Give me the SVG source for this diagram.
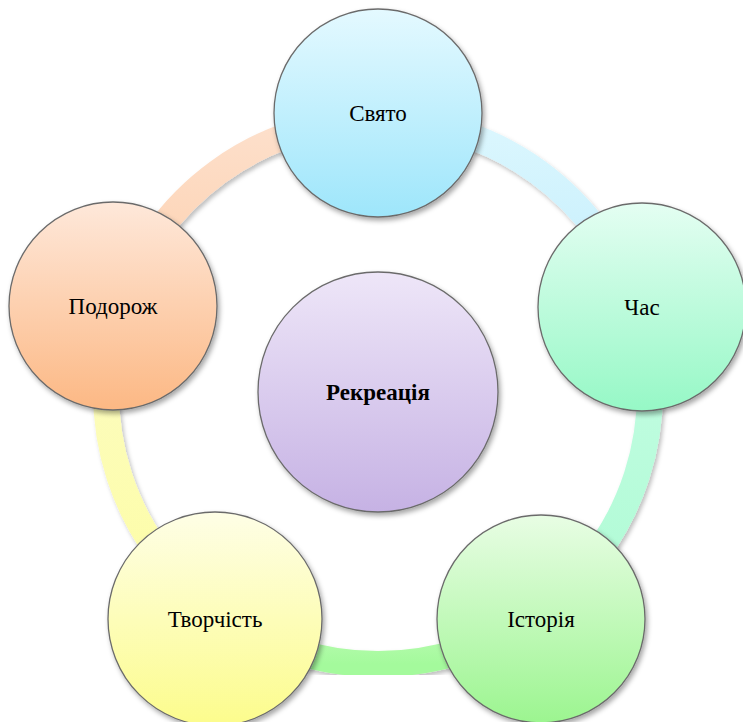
<svg xmlns="http://www.w3.org/2000/svg" width="743" height="722" viewBox="0 0 743 722">
<style>
.node{stroke:#6b6b6b;stroke-width:1.3;filter:url(#sh)}
.arc{fill:none;stroke-width:26;filter:url(#sh2)}
.lbl{font-family:"Liberation Serif","Times New Roman",serif;font-size:23px;fill:#000;text-anchor:middle}
</style>
<defs>
<filter id="sh" x="-20%" y="-20%" width="140%" height="140%">
<feDropShadow dx="2" dy="3" stdDeviation="2.5" flood-color="#000" flood-opacity="0.35"/>
</filter>
<filter id="sh2" x="-20%" y="-20%" width="140%" height="140%">
<feDropShadow dx="2" dy="3" stdDeviation="2" flood-color="#000" flood-opacity="0.25"/>
</filter>
<linearGradient id="gBlue" x1="0" y1="0" x2="0" y2="1"><stop offset="0" stop-color="#e4f9ff"/><stop offset="1" stop-color="#9ee6fb"/></linearGradient>
<linearGradient id="gMint" x1="0" y1="0" x2="0" y2="1"><stop offset="0" stop-color="#e4fef2"/><stop offset="1" stop-color="#96f8c6"/></linearGradient>
<linearGradient id="gGreen" x1="0" y1="0" x2="0" y2="1"><stop offset="0" stop-color="#e8fde4"/><stop offset="1" stop-color="#9cf590"/></linearGradient>
<linearGradient id="gYellow" x1="0" y1="0" x2="0" y2="1"><stop offset="0" stop-color="#fefee6"/><stop offset="1" stop-color="#fcfc8c"/></linearGradient>
<linearGradient id="gPeach" x1="0" y1="0" x2="0" y2="1"><stop offset="0" stop-color="#fee8da"/><stop offset="1" stop-color="#fcb884"/></linearGradient>
<linearGradient id="gPurple" x1="0" y1="0" x2="0" y2="1"><stop offset="0" stop-color="#eee6f8"/><stop offset="1" stop-color="#c6b2e4"/></linearGradient>
<linearGradient id="aBlue" x1="0" y1="0" x2="0" y2="1"><stop offset="0" stop-color="#dcf7fe"/><stop offset="1" stop-color="#c2edfc"/></linearGradient>
<linearGradient id="aMint" x1="0" y1="0" x2="0" y2="1"><stop offset="0" stop-color="#c6fde4"/><stop offset="1" stop-color="#aefbd4"/></linearGradient>
<linearGradient id="aGreen" x1="0" y1="0" x2="0" y2="1"><stop offset="0" stop-color="#c4fcbc"/><stop offset="1" stop-color="#a4fa9c"/></linearGradient>
<linearGradient id="aYellow" x1="0" y1="0" x2="0" y2="1"><stop offset="0" stop-color="#fcfcc4"/><stop offset="1" stop-color="#fdfda4"/></linearGradient>
<linearGradient id="aPeach" x1="0" y1="0" x2="0" y2="1"><stop offset="0" stop-color="#fde0cc"/><stop offset="1" stop-color="#fdcfac"/></linearGradient>
</defs>
<g id="connectors">
<path class="arc" stroke="url(#aBlue)" d="M378,120 A272,272 0 0 1 636.7,308"/>
<path class="arc" stroke="url(#aMint)" d="M636.7,308 A272,272 0 0 1 537.9,612.1"/>
<path class="arc" stroke="url(#aGreen)" d="M537.9,612.1 A272,272 0 0 1 218.1,612.1"/>
<path class="arc" stroke="url(#aYellow)" d="M218.1,612.1 A272,272 0 0 1 119.3,308"/>
<path class="arc" stroke="url(#aPeach)" d="M119.3,308 A272,272 0 0 1 378,120"/>
</g>
<g id="node-center">
<circle class="node" cx="378" cy="392" r="120" fill="url(#gPurple)"/>
<text class="lbl" x="378" y="400" font-weight="bold">Рекреація</text>
</g>
<g id="node-svyato">
<circle class="node" cx="378" cy="113" r="104" fill="url(#gBlue)"/>
<text class="lbl" x="378" y="121">Свято</text>
</g>
<g id="node-chas">
<circle class="node" cx="642" cy="307" r="104" fill="url(#gMint)"/>
<text class="lbl" x="642" y="315">Час</text>
</g>
<g id="node-istoriya">
<circle class="node" cx="541" cy="619" r="104" fill="url(#gGreen)"/>
<text class="lbl" x="541" y="627">Історія</text>
</g>
<g id="node-tvorchist">
<circle class="node" cx="215" cy="619" r="107" fill="url(#gYellow)"/>
<text class="lbl" x="215" y="627">Творчість</text>
</g>
<g id="node-podorozh">
<circle class="node" cx="113" cy="306" r="104" fill="url(#gPeach)"/>
<text class="lbl" x="113" y="314">Подорож</text>
</g>
</svg>
